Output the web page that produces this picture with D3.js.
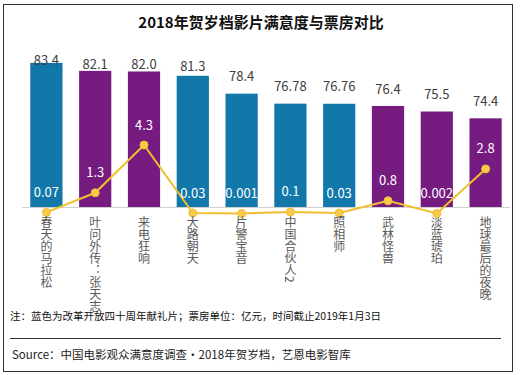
<!DOCTYPE html>
<html>
<head>
<meta charset="utf-8">
<script src="https://cdn.jsdelivr.net/npm/d3@7"></script>
<style>
  body { margin: 0; background: #fff; }
  svg text { font-family: "Noto Sans CJK SC", "Noto Sans", sans-serif; }
</style>
</head>
<body>
<svg id="chart" width="527" height="375"></svg>
<script>
var films = ["春天的马拉松", "叶问外传：张天志", "来电狂响", "大路朝天", "片警宝音", "中国合伙人2", "照相师", "武林怪兽", "淡蓝琥珀", "地球最后的夜晚"]
var satisfaction = [83.4, 82.1, 82.0, 81.3, 78.4, 76.78, 76.76, 76.4, 75.5, 74.4]
var satLabels = ["83.4", "82.1", "82.0", "81.3", "78.4", "76.78", "76.76", "76.4", "75.5", "74.4"]
var boxOffice = [0.07, 1.3, 4.3, 0.03, 0.001, 0.1, 0.03, 0.8, 0.002, 2.8]
var tribute = [true, false, false, true, true, true, true, false, false, false]

var blue = "#1178A9"
var purple = "#761B80"
var gold = "#F2BE2C"

var svg = d3.select("#chart")

// frame
svg.append("rect")
  .attr("x", 3.5).attr("y", 4.5)
  .attr("width", 509).attr("height", 367)
  .attr("fill", "none").attr("stroke", "#333").attr("stroke-width", 1)

svg.append("text")
  .attr("x", 261).attr("y", 28)
  .attr("text-anchor", "middle")
  .attr("font-size", 15).attr("font-weight", "bold").attr("fill", "#111")
  .text("2018年贺岁档影片满意度与票房对比")

var x = d3.scaleBand()
  .domain(films)
  .range([22, 510])
  .paddingInner(0.34)
  .paddingOuter(0.17)

var y = d3.scaleLinear().domain([60, 85]).range([207, 53])
var y2 = d3.scaleLinear().domain([0, 4.3]).range([213.5, 145])

var rows = films.map(function(f, i) {
  return {film: f, sat: satisfaction[i], satLabel: satLabels[i], box: boxOffice[i], tribute: tribute[i]}
})

svg.append("g").selectAll("rect")
  .data(rows).enter()
  .append("rect")
  .attr("x", function(d) { return x(d.film) })
  .attr("y", function(d) { return y(d.sat) })
  .attr("width", x.bandwidth())
  .attr("height", function(d) { return y(60) - y(d.sat) })
  .attr("fill", function(d) { return d.tribute ? blue : purple })

// baseline
svg.append("line")
  .attr("x1", 22).attr("x2", 510)
  .attr("y1", y(60) + 0.5).attr("y2", y(60) + 0.5)
  .attr("stroke", "#d0d0d0")

// satisfaction labels
svg.append("g").selectAll("text")
  .data(rows).enter()
  .append("text")
  .attr("x", function(d) { return x(d.film) + x.bandwidth() / 2 })
  .attr("y", function(d) {
    var top = y(d.sat)
    return Math.max((top + 58) / 2, top - 17)
  })
  .attr("dy", "0.35em")
  .attr("text-anchor", "middle")
  .attr("font-size", 13).attr("fill", "#404040")
  .text(function(d) { return d.satLabel })

// box office line
var line = d3.line()
  .x(function(d) { return x(d.film) + x.bandwidth() / 2 })
  .y(function(d) { return y2(d.box) })

svg.append("path")
  .datum(rows)
  .attr("d", line)
  .attr("fill", "none")
  .attr("stroke", gold)
  .attr("stroke-width", 2)

svg.append("g").selectAll("circle")
  .data(rows).enter()
  .append("circle")
  .attr("cx", function(d) { return x(d.film) + x.bandwidth() / 2 })
  .attr("cy", function(d) { return y2(d.box) })
  .attr("r", 4)
  .attr("fill", "#F6CB4E")
  .attr("stroke", gold)
  .attr("stroke-width", 1)

svg.append("g").selectAll("text")
  .data(rows).enter()
  .append("text")
  .attr("x", function(d) { return x(d.film) + x.bandwidth() / 2 })
  .attr("y", function(d) { return y2(d.box) - 20 })
  .attr("dy", "0.35em")
  .attr("text-anchor", "middle")
  .attr("font-size", 13).attr("fill", "#fff")
  .text(function(d) { return String(d.box) })

// vertical category labels
svg.append("g").selectAll("text")
  .data(rows).enter()
  .append("text")
  .attr("x", function(d) { return x(d.film) + x.bandwidth() / 2 })
  .attr("y", 216)
  .style("writing-mode", "vertical-rl")
  .attr("font-size", 12).attr("fill", "#595959")
  .text(function(d) { return d.film })

svg.append("text")
  .attr("x", 10).attr("y", 320)
  .attr("font-size", 10.5).attr("fill", "#111")
  .text("注：蓝色为改革开放四十周年献礼片；票房单位：亿元，时间截止2019年1月3日")

svg.append("line")
  .attr("x1", 10).attr("x2", 501)
  .attr("y1", 338.5).attr("y2", 338.5)
  .attr("stroke", "#333")

svg.append("text")
  .attr("x", 12).attr("y", 359)
  .attr("font-size", 11.5).attr("fill", "#222")
  .text("Source：中国电影观众满意度调查·2018年贺岁档，艺恩电影智库")
</script>
</body>
</html>
